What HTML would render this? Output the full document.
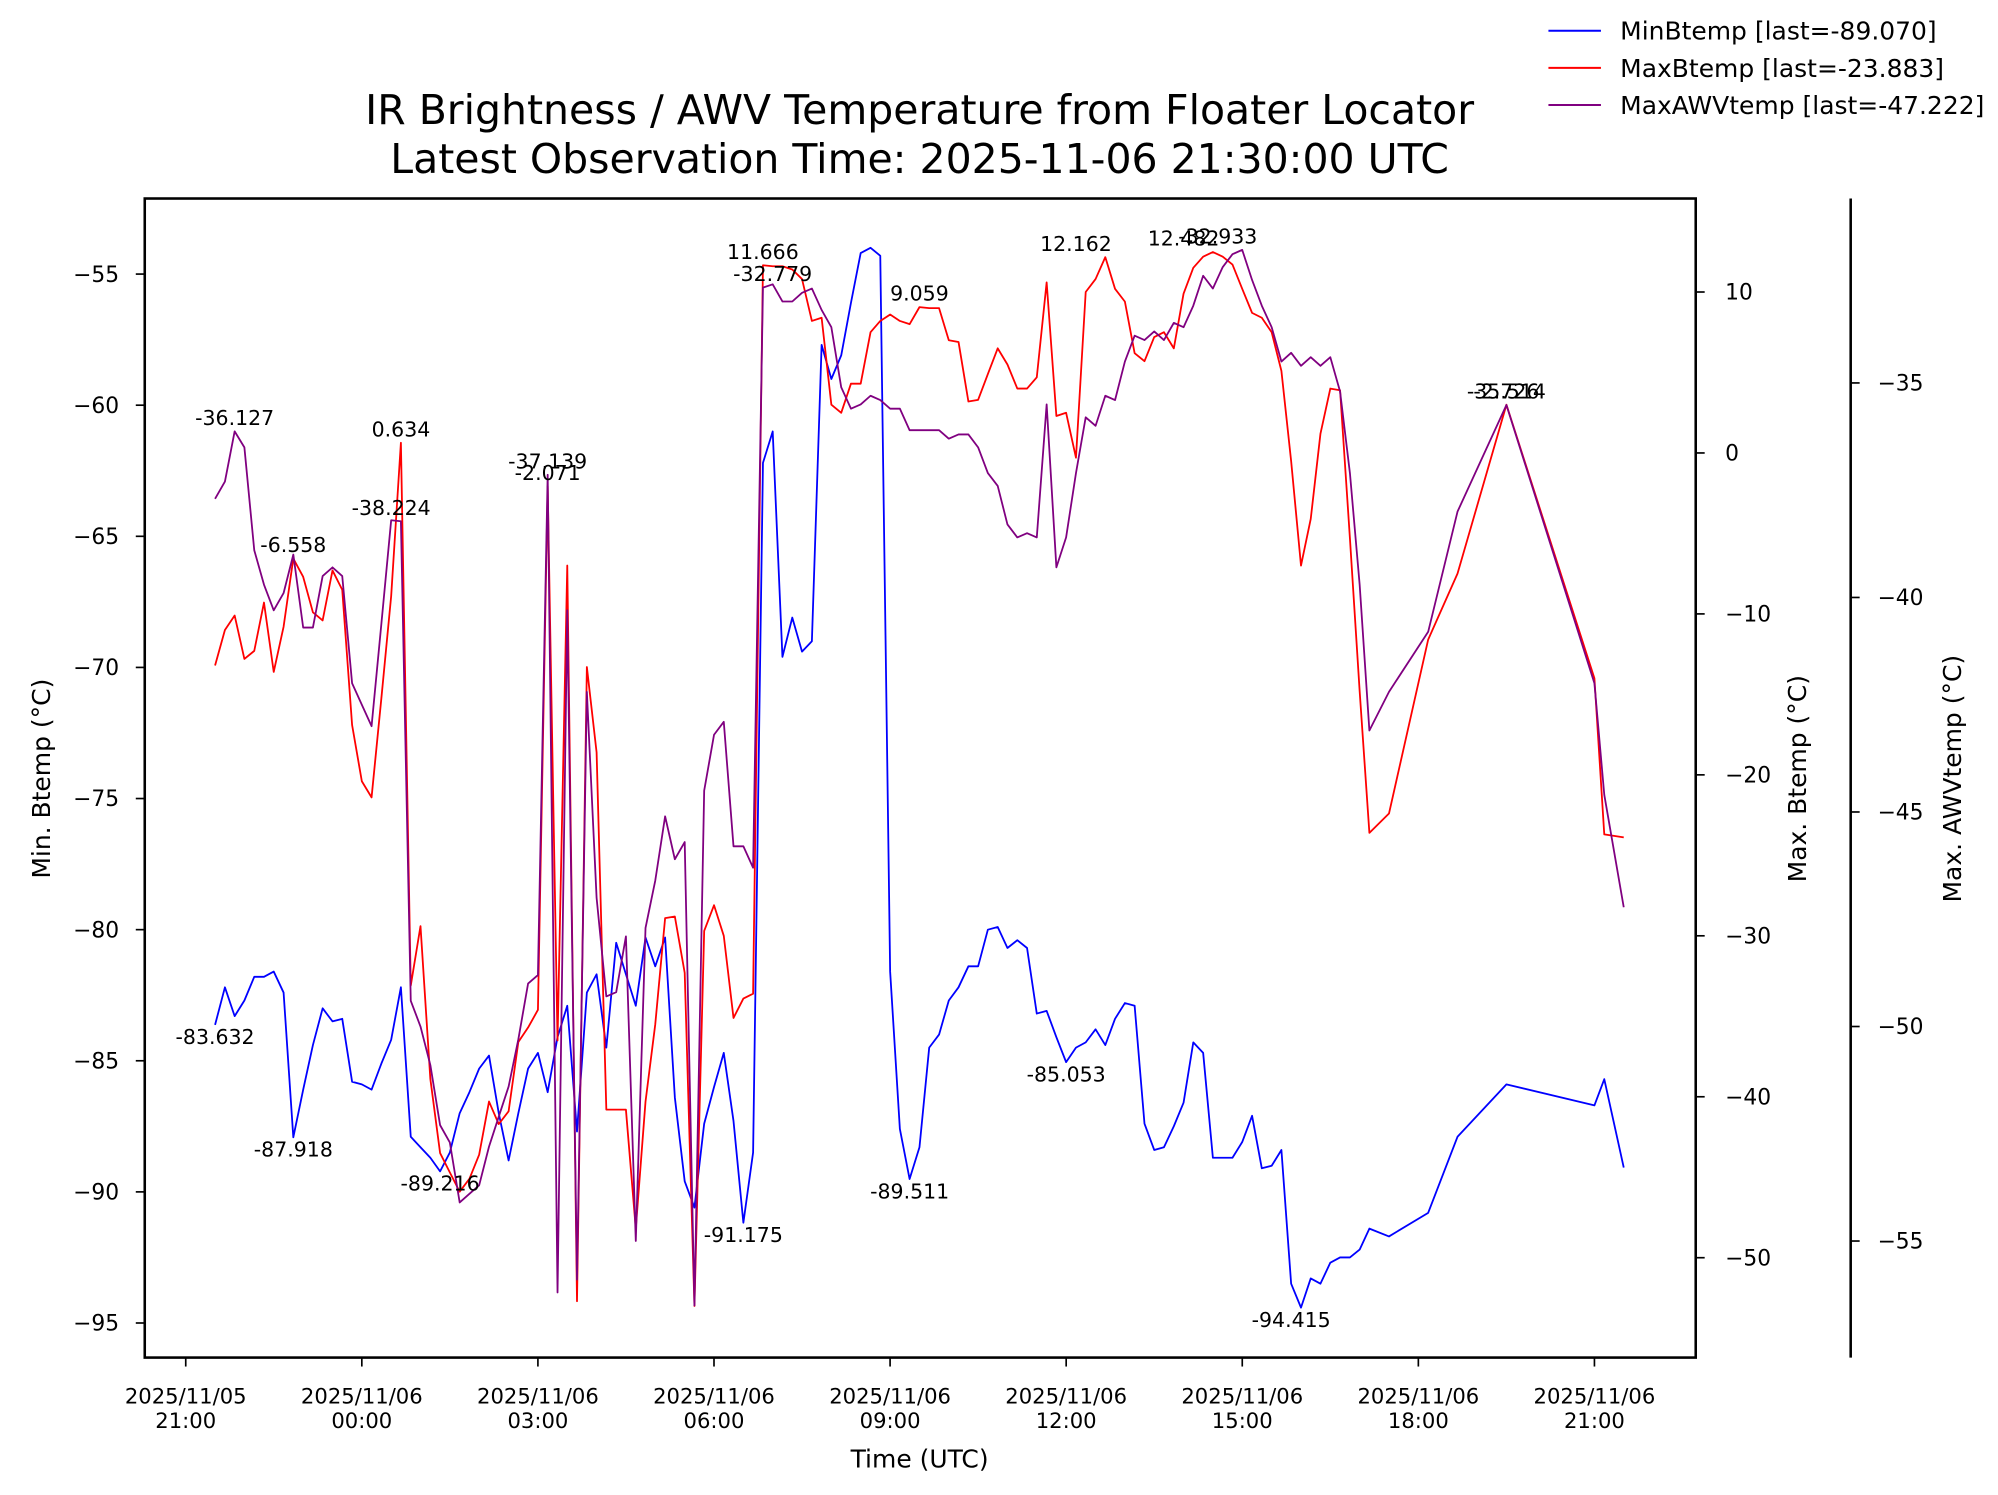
<!DOCTYPE html>
<html><head><meta charset="utf-8"><style>
html,body{margin:0;padding:0;background:#fff;}
svg{display:block;font-family:"DejaVu Sans","Liberation Sans",sans-serif;}
</style></head><body>
<svg id="chart" width="1998" height="1495" viewBox="0 0 1560 1167.3" xmlns="http://www.w3.org/2000/svg">
<rect width="1560" height="1168" fill="#fff"/>
<g font-size="32" text-anchor="middle" fill="#000">
<text x="718" y="97">IR Brightness / AWV Temperature from Floater Locator</text>
<text x="718" y="135">Latest Observation Time: 2025-11-06 21:30:00 UTC</text>
</g>
<g id="series"></g>
<g id="axes"></g>
<g id="annots" font-size="16" text-anchor="middle" fill="#000"></g>
<g font-size="19.5">
<g><line x1="1209" y1="24" x2="1250" y2="24" stroke="#0000ff" stroke-width="1.6"/><text x="1265" y="31">MinBtemp [last=-89.070]</text></g>
<g><line x1="1209" y1="53" x2="1250" y2="53" stroke="#ff0000" stroke-width="1.6"/><text x="1265" y="60">MaxBtemp [last=-23.883]</text></g>
<g><line x1="1209" y1="82" x2="1250" y2="82" stroke="#800080" stroke-width="1.6"/><text x="1265" y="89">MaxAWVtemp [last=-47.222]</text></g>
</g>
</svg>
<script>
// minutes since 2025-11-05 21:00 UTC
const times = [30,40,50,60,70,80,90,100,110,120,130,140,150,160,170,180,190,200,210,220,230,240,250,260,270,280,290,300,310,320,330,340,350,360,370,380,390,400,410,420,430,440,450,460,470,480,490,500,510,520,530,540,550,560,570,580,590,600,610,620,630,640,650,660,670,680,690,700,710,720,730,740,750,760,770,780,790,800,810,820,830,840,850,860,870,880,890,900,910,920,930,940,950,960,970,980,990,1000,1010,1020,1030,1040,1050,1060,1070,1080,1090,1100,1110,1120,1130,1140,1150,1160,1170,1180,1190,1200,1210,1230,1270,1300,1350,1440,1450,1470];
const minBtemp = [-83.632,-82.2,-83.3,-82.7,-81.8,-81.8,-81.6,-82.4,-87.918,-86.1,-84.4,-83.0,-83.5,-83.4,-85.8,-85.9,-86.1,-85.1,-84.2,-82.2,-87.9,-88.3,-88.7,-89.216,-88.5,-87.0,-86.2,-85.3,-84.8,-87.0,-88.8,-87.0,-85.3,-84.7,-86.2,-84.1,-82.9,-87.7,-82.4,-81.7,-84.5,-80.5,-81.7,-82.9,-80.3,-81.4,-80.3,-86.4,-89.6,-90.6,-87.4,-86.0,-84.7,-87.3,-91.175,-88.5,-62.2,-61.0,-69.6,-68.1,-69.4,-69.0,-57.7,-59.0,-58.1,-56.1,-54.2,-54.0,-54.3,-81.6,-87.6,-89.511,-88.3,-84.5,-84.0,-82.7,-82.2,-81.4,-81.4,-80.0,-79.9,-80.7,-80.4,-80.7,-83.2,-83.1,-84.1,-85.053,-84.5,-84.3,-83.8,-84.4,-83.4,-82.8,-82.9,-87.4,-88.4,-88.3,-87.5,-86.6,-84.3,-84.7,-88.7,-88.7,-88.7,-88.1,-87.1,-89.1,-89.0,-88.4,-93.5,-94.415,-93.3,-93.5,-92.7,-92.5,-92.5,-92.2,-91.4,-91.7,-90.8,-87.9,-85.9,-86.7,-85.7,-89.070];
const maxBtemp = [-13.2,-11.0,-10.1,-12.8,-12.3,-9.3,-13.6,-10.8,-6.558,-7.7,-9.9,-10.4,-7.3,-8.5,-16.9,-20.4,-21.4,-15.2,-8.9,0.634,-33.1,-29.4,-38.9,-43.5,-44.7,-45.9,-45.1,-43.6,-40.3,-41.7,-40.9,-36.6,-35.7,-34.6,-2.071,-36.5,-7.0,-52.7,-13.3,-18.6,-40.8,-40.8,-40.8,-48.2,-40.3,-35.5,-28.9,-28.8,-32.3,-53.0,-29.7,-28.1,-30.0,-35.1,-33.9,-33.6,11.666,11.6,11.6,11.4,10.8,8.2,8.4,3.0,2.5,4.3,4.3,7.5,8.2,8.6,8.2,8.0,9.059,9.0,9.0,7.0,6.9,3.2,3.3,4.9,6.5,5.5,4.0,4.0,4.7,10.6,2.3,2.5,-0.3,10.0,10.8,12.162,10.2,9.4,6.2,5.7,7.2,7.5,6.5,9.9,11.5,12.2,12.482,12.2,11.7,10.2,8.7,8.4,7.5,5.1,-0.5,-7.0,-4.1,1.2,4.0,3.9,-5.3,-14.8,-23.6,-22.4,-11.6,-7.5,3.0,-14.0,-23.7,-23.883];
const maxAWVtemp = [-37.7,-37.3,-36.127,-36.5,-38.9,-39.7,-40.3,-39.9,-39.0,-40.7,-40.7,-39.5,-39.3,-39.5,-42.0,-42.5,-43.0,-40.6,-38.2,-38.224,-49.4,-50.0,-50.9,-52.3,-52.7,-54.1,-53.9,-53.7,-52.8,-52.1,-51.4,-50.3,-49.0,-48.8,-37.139,-56.2,-40.3,-55.9,-42.2,-47.0,-49.3,-49.2,-47.9,-55.0,-47.7,-46.6,-45.1,-46.1,-45.7,-56.5,-44.5,-43.2,-42.9,-45.8,-45.8,-46.3,-32.779,-32.7,-33.1,-33.1,-32.9,-32.8,-33.3,-33.7,-35.1,-35.6,-35.5,-35.3,-35.4,-35.6,-35.6,-36.1,-36.1,-36.1,-36.1,-36.3,-36.2,-36.2,-36.5,-37.1,-37.4,-38.3,-38.6,-38.5,-38.6,-35.5,-39.3,-38.6,-37.1,-35.8,-36.0,-35.3,-35.4,-34.5,-33.9,-34.0,-33.8,-34.0,-33.6,-33.7,-33.2,-32.5,-32.8,-32.3,-32.0,-31.9,-32.6,-33.2,-33.7,-34.5,-34.3,-34.6,-34.4,-34.6,-34.4,-35.2,-37.1,-39.7,-43.1,-42.2,-40.8,-38.0,-35.514,-42.0,-44.6,-47.222];
const leftTicks = [-55,-60,-65,-70,-75,-80,-85,-90,-95];
const rightTicks = [10,0,-10,-20,-30,-40,-50];
const awvTicks = [-35,-40,-45,-50,-55];
const xTickMinutes = [0,180,360,540,720,900,1080,1260,1440];
const xTickDates = ["2025/11/05","2025/11/06","2025/11/06","2025/11/06","2025/11/06","2025/11/06","2025/11/06","2025/11/06","2025/11/06"];
const xTickTimes = ["21:00","00:00","03:00","06:00","09:00","12:00","15:00","18:00","21:00"];
const annotTexts = ["-36.127","0.634","-6.558","-38.224","-37.139","-2.071","11.666","-32.779","9.059","12.162","12.482","-32.933","-35.514","-2.726","-83.632","-87.918","-89.216","-91.175","-89.511","-85.053","-94.415"];
const annotMinutes = [50,220,110,210,370,370,590,600,750,910,1020,1055,1350,1350,30,110,260,570,740,900,1130];
const annotSeries = ["awv","max","max","awv","awv","max","max","awv","max","max","max","awv","awv","max","min","min","min","min","min","min","min"];
const annotValues = [-36.127,0.634,-6.558,-38.224,-37.139,-2.071,11.666,-32.779,9.059,12.162,12.482,-31.9,-35.514,3.0,-83.632,-87.918,-89.216,-91.175,-89.511,-85.053,-94.415];

const NS="http://www.w3.org/2000/svg";
const PL=113, PR=1324, PT=155, PB=1060;
const X = m => 145 + m/60*45.83;
const Yl = v => 214 + (-55 - v)*20.475;
const Yr = v => 228 + (10 - v)*12.567;
const Ya = v => 299 + (-35 - v)*33.5;
function mk(tag, attrs, parent){const e=document.createElementNS(NS,tag);for(const k in attrs)e.setAttribute(k,attrs[k]);parent.appendChild(e);return e;}
const series=document.getElementById('series');
function drawLine(vals, yf, color, name){
  const pts = vals.map((v,i)=>X(times[i]).toFixed(1)+','+yf(v).toFixed(1)).join(' ');
  const p = mk('polyline',{points:pts,fill:'none',stroke:color,'stroke-width':1.4,'stroke-linejoin':'round'},series);
  
  
}
drawLine(minBtemp, Yl, '#0000ff', 'minbtemp-line');
drawLine(maxBtemp, Yr, '#ff0000', 'maxbtemp-line');
drawLine(maxAWVtemp, Ya, '#800080', 'maxawvtemp-line');

const axes=document.getElementById('axes');
const frame=mk('rect',{x:PL,y:PT,width:PR-PL,height:PB-PT,fill:'none',stroke:'#000','stroke-width':2},axes);


const sp=mk('line',{x1:1445,y1:PT,x2:1445,y2:PB,stroke:'#000','stroke-width':2},axes);


leftTicks.forEach(v=>{const y=Yl(v);
  mk('line',{x1:PL-7,y1:y,x2:PL,y2:y,stroke:'#000','stroke-width':1.3},axes);
  const t=mk('text',{x:PL-20,y:y+6,'font-size':17,'text-anchor':'end'},axes);t.textContent='\u2212'+Math.abs(v);
  
  });
rightTicks.forEach(v=>{const y=Yr(v);
  mk('line',{x1:PR,y1:y,x2:PR+7,y2:y,stroke:'#000','stroke-width':1.3},axes);
  const t=mk('text',{x:PR+23,y:y+6,'font-size':17,'text-anchor':'start'},axes);t.textContent=(v<0?'\u2212':'')+Math.abs(v);
  
  });
awvTicks.forEach(v=>{const y=Ya(v);
  mk('line',{x1:1445,y1:y,x2:1452,y2:y,stroke:'#000','stroke-width':1.3},axes);
  const t=mk('text',{x:1466,y:y+6,'font-size':17,'text-anchor':'start'},axes);t.textContent='\u2212'+Math.abs(v);
  
  });
xTickMinutes.forEach((m,i)=>{const x=X(m);
  mk('line',{x1:x,y1:PB,x2:x,y2:PB+7,stroke:'#000','stroke-width':1.3},axes);
  const t=mk('text',{x:x,y:1096,'font-size':16.5,'text-anchor':'middle'},axes);t.textContent=xTickDates[i];
  
  
  const t2=mk('text',{x:x,y:1115,'font-size':16.5,'text-anchor':'middle'},axes);t2.textContent=xTickTimes[i];
  
  });
function axisLabel(txt,x,y,rot,name){const t=mk('text',{x:x,y:y,'font-size':19.5,'text-anchor':'middle',transform:rot?`rotate(-90 ${x} ${y})`:''},axes);t.textContent=txt;
  
  }
axisLabel('Time (UTC)',718,1146,false,'x-axis-title');
axisLabel('Min. Btemp (\u00b0C)',39,608,true,'y-left-axis-title');
axisLabel('Max. Btemp (\u00b0C)',1410,608,true,'y-right-axis-title');
axisLabel('Max. AWVtemp (\u00b0C)',1531,608,true,'y-awv-axis-title');

const ann=document.getElementById('annots');
const annOff={awv:-10,max:-10,min:10};
annotTexts.forEach((s,i)=>{
  const yf = annotSeries[i]==='min'?Yl:(annotSeries[i]==='max'?Yr:Ya);
  const t=mk('text',{x:X(annotMinutes[i]),y:yf(annotValues[i])+annOff[annotSeries[i]]+5,},ann);
  t.textContent=s;
  
  
});
</script>
</body></html>
